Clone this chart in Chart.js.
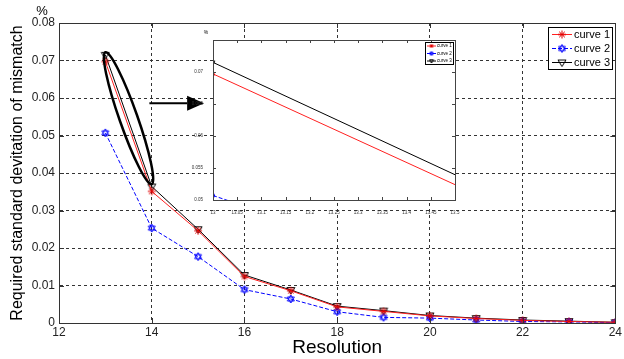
<!DOCTYPE html>
<html>
<head>
<meta charset="utf-8">
<script src="https://cdn.jsdelivr.net/npm/chart.js@4"></script>
<style>
  html, body { margin: 0; padding: 0; background: #fff; }
  #wrap { position: relative; width: 624px; height: 359px; }
  #mainChart { position: absolute; left: 0; top: 0; }
  #zoomChart { position: absolute; left: 190px; top: 25px; }
</style>
</head>
<body>
<div id="wrap">
  <canvas id="mainChart" width="624" height="359"></canvas>
  <canvas id="zoomChart" width="280" height="190"></canvas>
</div>
<script>
// values
const resolution = [13, 14, 15, 16, 17, 18, 19, 20, 21, 22, 23, 24];
const curve1 = [0.0697, 0.0351, 0.0246, 0.0124, 0.0086, 0.0043, 0.0031, 0.0019, 0.0012, 0.0007, 0.0004, 0.0002];
const curve2 = [0.0507, 0.0253, 0.0177, 0.0089, 0.0064, 0.0030, 0.0015, 0.0013, 0.0008, 0.0004, 0.0003, 0.0001];
const curve3 = [0.0715, 0.0364, 0.0250, 0.0128, 0.0088, 0.0045, 0.0033, 0.0020, 0.0013, 0.0008, 0.0005, 0.0002];
const curveNames = ["curve 1", "curve 2", "curve 3"];

const xTickValues = [12, 14, 16, 18, 20, 22, 24];
const yTickValues = [0, 0.01, 0.02, 0.03, 0.04, 0.05, 0.06, 0.07, 0.08];
const zoomXTicks = [13, 13.05, 13.1, 13.15, 13.2, 13.25, 13.3, 13.35, 13.4, 13.45, 13.5];
const zoomYTicks = [0.05, 0.055, 0.06, 0.065, 0.07, 0.075];

const FONT = "'Liberation Sans', Arial, sans-serif";

function toPoints(ys) {
    return resolution.map((x, i) => ({ x: x, y: ys[i] }));
}

// MATLAB style markers as small canvases
function makeMarker(kind, color, size) {
    const c = document.createElement("canvas");
    c.width = c.height = size + 2;
    const g = c.getContext("2d");
    const m = (size + 2) / 2, r = size / 2;
    g.strokeStyle = color;
    g.lineWidth = 1;
    g.beginPath();
    if (kind === "star") {
        const d = r * 0.7;
        g.moveTo(m - r, m); g.lineTo(m + r, m);
        g.moveTo(m, m - r); g.lineTo(m, m + r);
        g.moveTo(m - d, m - d); g.lineTo(m + d, m + d);
        g.moveTo(m - d, m + d); g.lineTo(m + d, m - d);
    } else if (kind === "hexagram") {
        for (let t = 0; t < 2; t++) {
            for (let i = 0; i < 3; i++) {
                const a = Math.PI / 2 + t * Math.PI + i * 2 * Math.PI / 3;
                const px = m + r * Math.cos(a), py = m - r * Math.sin(a);
                if (i === 0) g.moveTo(px, py); else g.lineTo(px, py);
            }
            g.closePath();
        }
    } else {
        g.moveTo(m - r, m - r * 0.6);
        g.lineTo(m + r, m - r * 0.6);
        g.lineTo(m, m + r);
        g.closePath();
    }
    g.stroke();
    return c;
}

function makeDatasets(markerSize) {
    return [
        { label: curveNames[0], data: toPoints(curve1), borderColor: "#ff2020", borderWidth: 1,
          pointStyle: makeMarker("star", "#e00000", markerSize) },
        { label: curveNames[1], data: toPoints(curve2), borderColor: "#0000ff", borderWidth: 1, borderDash: [4, 2],
          pointStyle: makeMarker("hexagram", "#0000ff", markerSize) },
        { label: curveNames[2], data: toPoints(curve3), borderColor: "#000000", borderWidth: 1,
          pointStyle: makeMarker("tri", "#000000", markerSize) }
    ];
}

function setTicks(values) {
    return scale => { scale.ticks = values.map(v => ({ value: v })); };
}

// box, inward ticks, legend, unit label
const matlabAxes = {
    id: "matlabAxes",
    afterDraw(chart, args, opts) {
        const ctx = chart.ctx;
        const a = chart.chartArea;
        const xs = chart.scales.x, ys = chart.scales.y;
        ctx.save();
        ctx.strokeStyle = opts.frameColor;
        ctx.lineWidth = 1;
        ctx.setLineDash([]);
        ctx.strokeRect(Math.round(a.left) + 0.5, Math.round(a.top) + 0.5,
                       Math.round(a.right - a.left), Math.round(a.bottom - a.top));
        ctx.beginPath();
        xs.ticks.forEach(t => {
            const px = Math.round(xs.getPixelForValue(t.value)) + 0.5;
            ctx.moveTo(px, a.bottom); ctx.lineTo(px, a.bottom - opts.tick);
            ctx.moveTo(px, a.top); ctx.lineTo(px, a.top + opts.tick);
        });
        ys.ticks.forEach(t => {
            const py = Math.round(ys.getPixelForValue(t.value)) + 0.5;
            ctx.moveTo(a.left, py); ctx.lineTo(a.left + opts.tick, py);
            ctx.moveTo(a.right, py); ctx.lineTo(a.right - opts.tick, py);
        });
        ctx.stroke();

        // unit label above the y axis
        ctx.fillStyle = "#000";
        ctx.font = opts.unitFont;
        ctx.textAlign = "center";
        ctx.textBaseline = "middle";
        ctx.fillText("%", opts.unitX, opts.unitY);

        // legend
        const L = opts.legend;
        ctx.fillStyle = "#fff";
        ctx.fillRect(L.x, L.y, L.w, L.h);
        ctx.strokeStyle = "#000";
        ctx.lineWidth = L.frame;
        ctx.strokeRect(L.x + 0.5, L.y + 0.5, L.w, L.h);
        chart.data.datasets.forEach((ds, i) => {
            const y = L.y + L.first + i * L.row;
            ctx.strokeStyle = ds.borderColor;
            ctx.lineWidth = 1;
            ctx.setLineDash(ds.borderDash || []);
            ctx.beginPath();
            ctx.moveTo(L.x + L.lineStart, y);
            ctx.lineTo(L.x + L.lineStart + L.lineLen, y);
            ctx.stroke();
            ctx.setLineDash([]);
            const img = ds.pointStyle;
            ctx.drawImage(img, L.x + L.lineStart + L.lineLen / 2 - img.width / 2, y - img.height / 2);
            ctx.fillStyle = "#000";
            ctx.font = L.font;
            ctx.textAlign = "left";
            ctx.textBaseline = "middle";
            ctx.fillText(ds.label, L.x + L.textStart, y);
        });
        ctx.restore();
    }
};

// ellipse around the first segment and the arrow to the zoom window
const zoomMark = {
    id: "zoomMark",
    afterDraw(chart, args, opts) {
        const ctx = chart.ctx;
        const xs = chart.scales.x, ys = chart.scales.y;
        const x1 = xs.getPixelForValue(opts.from[0]), y1 = ys.getPixelForValue(opts.from[1]);
        const x2 = xs.getPixelForValue(opts.to[0]), y2 = ys.getPixelForValue(opts.to[1]);
        ctx.save();
        ctx.strokeStyle = "#000";
        ctx.lineWidth = 2.5;
        ctx.beginPath();
        ctx.ellipse((x1 + x2) / 2, (y1 + y2) / 2, Math.hypot(x2 - x1, y2 - y1) / 2, opts.minor,
                    Math.atan2(y2 - y1, x2 - x1), 0, Math.PI * 2);
        ctx.stroke();

        const ax1 = xs.getPixelForValue(opts.arrowFrom[0]);
        const ax2 = xs.getPixelForValue(opts.arrowTo[0]);
        const ay = ys.getPixelForValue(opts.arrowFrom[1]);
        ctx.lineWidth = 2;
        ctx.beginPath();
        ctx.moveTo(ax1, ay);
        ctx.lineTo(ax2 - opts.head, ay);
        ctx.stroke();
        ctx.fillStyle = "#000";
        ctx.beginPath();
        ctx.moveTo(ax2, ay);
        ctx.lineTo(ax2 - opts.head, ay - opts.headHalf);
        ctx.lineTo(ax2 - opts.head, ay + opts.headHalf);
        ctx.closePath();
        ctx.fill();
        ctx.restore();
    }
};

const whiteArea = {
    id: "whiteArea",
    beforeDraw(chart) {
        const a = chart.chartArea;
        chart.ctx.save();
        chart.ctx.fillStyle = "#fff";
        chart.ctx.fillRect(a.left, a.top, a.right - a.left, a.bottom - a.top);
        chart.ctx.restore();
    }
};

new Chart(document.getElementById("mainChart"), {
    type: "line",
    data: { datasets: makeDatasets(8) },
    options: {
        responsive: false,
        animation: false,
        devicePixelRatio: 1,
        layout: { padding: { top: 23, right: 8, left: 0, bottom: 0 } },
        elements: { point: { radius: 4 }, line: { tension: 0 } },
        plugins: {
            legend: { display: false },
            tooltip: { enabled: false },
            matlabAxes: {
                frameColor: "#333", tick: 5,
                unitFont: "13px " + FONT, unitX: 42, unitY: 11,
                legend: { x: 548, y: 27, w: 64, h: 42, frame: 1, first: 7.5, row: 14,
                          lineStart: 4, lineLen: 20, textStart: 26, font: "11px " + FONT }
            },
            zoomMark: {
                from: [13, 0.0722], to: [14, 0.0370], minor: 9,
                arrowFrom: [13.95, 0.0586], arrowTo: [15.13, 0.0586], head: 17, headHalf: 7.5
            }
        },
        scales: {
            x: {
                type: "linear", min: 12, max: 24,
                afterBuildTicks: setTicks(xTickValues),
                afterFit: s => { s.height = 36; },
                grid: { color: "#333", drawTicks: false },
                border: { color: "#333", dash: [3, 3] },
                ticks: { autoSkip: false, maxRotation: 0, padding: 2, color: "#222",
                         font: { family: FONT, size: 12 }, callback: v => String(v) },
                title: { display: true, text: "Resolution", color: "#000",
                         font: { family: FONT, size: 19 }, padding: { top: 0, bottom: 0 } }
            },
            y: {
                min: 0, max: 0.08,
                afterBuildTicks: setTicks(yTickValues),
                afterFit: s => { s.width = 59; },
                grid: { color: "#333", drawTicks: false },
                border: { color: "#333", dash: [3, 3] },
                ticks: { autoSkip: false, padding: 4, color: "#222",
                         font: { family: FONT, size: 12 }, callback: v => String(v) },
                title: { display: true, text: "Required standard devitation of mismatch", color: "#000",
                         font: { family: FONT, size: 16 }, padding: { top: 8, bottom: 0 } }
            }
        }
    },
    plugins: [matlabAxes, zoomMark]
});

new Chart(document.getElementById("zoomChart"), {
    type: "line",
    data: { datasets: makeDatasets(4) },
    options: {
        responsive: false,
        animation: false,
        devicePixelRatio: 1,
        layout: { padding: { top: 15, right: 15, left: 0, bottom: 0 } },
        elements: { point: { radius: 2 }, line: { tension: 0 } },
        plugins: {
            legend: { display: false },
            tooltip: { enabled: false },
            matlabAxes: {
                frameColor: "#444", tick: 3,
                unitFont: "5px " + FONT, unitX: 16, unitY: 8,
                legend: { x: 235, y: 17, w: 28, h: 22, frame: 1, first: 4, row: 7.5,
                          lineStart: 2, lineLen: 9, textStart: 12, font: "4.5px " + FONT }
            }
        },
        scales: {
            x: {
                type: "linear", min: 13, max: 13.5,
                afterBuildTicks: setTicks(zoomXTicks),
                afterFit: s => { s.height = 15; },
                grid: { display: false },
                border: { color: "#444" },
                ticks: { autoSkip: false, maxRotation: 0, padding: 2, color: "#333",
                         font: { family: FONT, size: 4.5 }, callback: v => String(v) }
            },
            y: {
                min: 0.05, max: 0.075,
                afterBuildTicks: setTicks(zoomYTicks),
                afterFit: s => { s.width = 23; },
                grid: { display: false },
                border: { color: "#444" },
                ticks: { autoSkip: false, padding: 2, color: "#333",
                         font: { family: FONT, size: 4.5 },
                         callback: v => v === 0.075 ? "" : String(v) }
            }
        }
    },
    plugins: [whiteArea, matlabAxes]
});
</script>
</body>
</html>
